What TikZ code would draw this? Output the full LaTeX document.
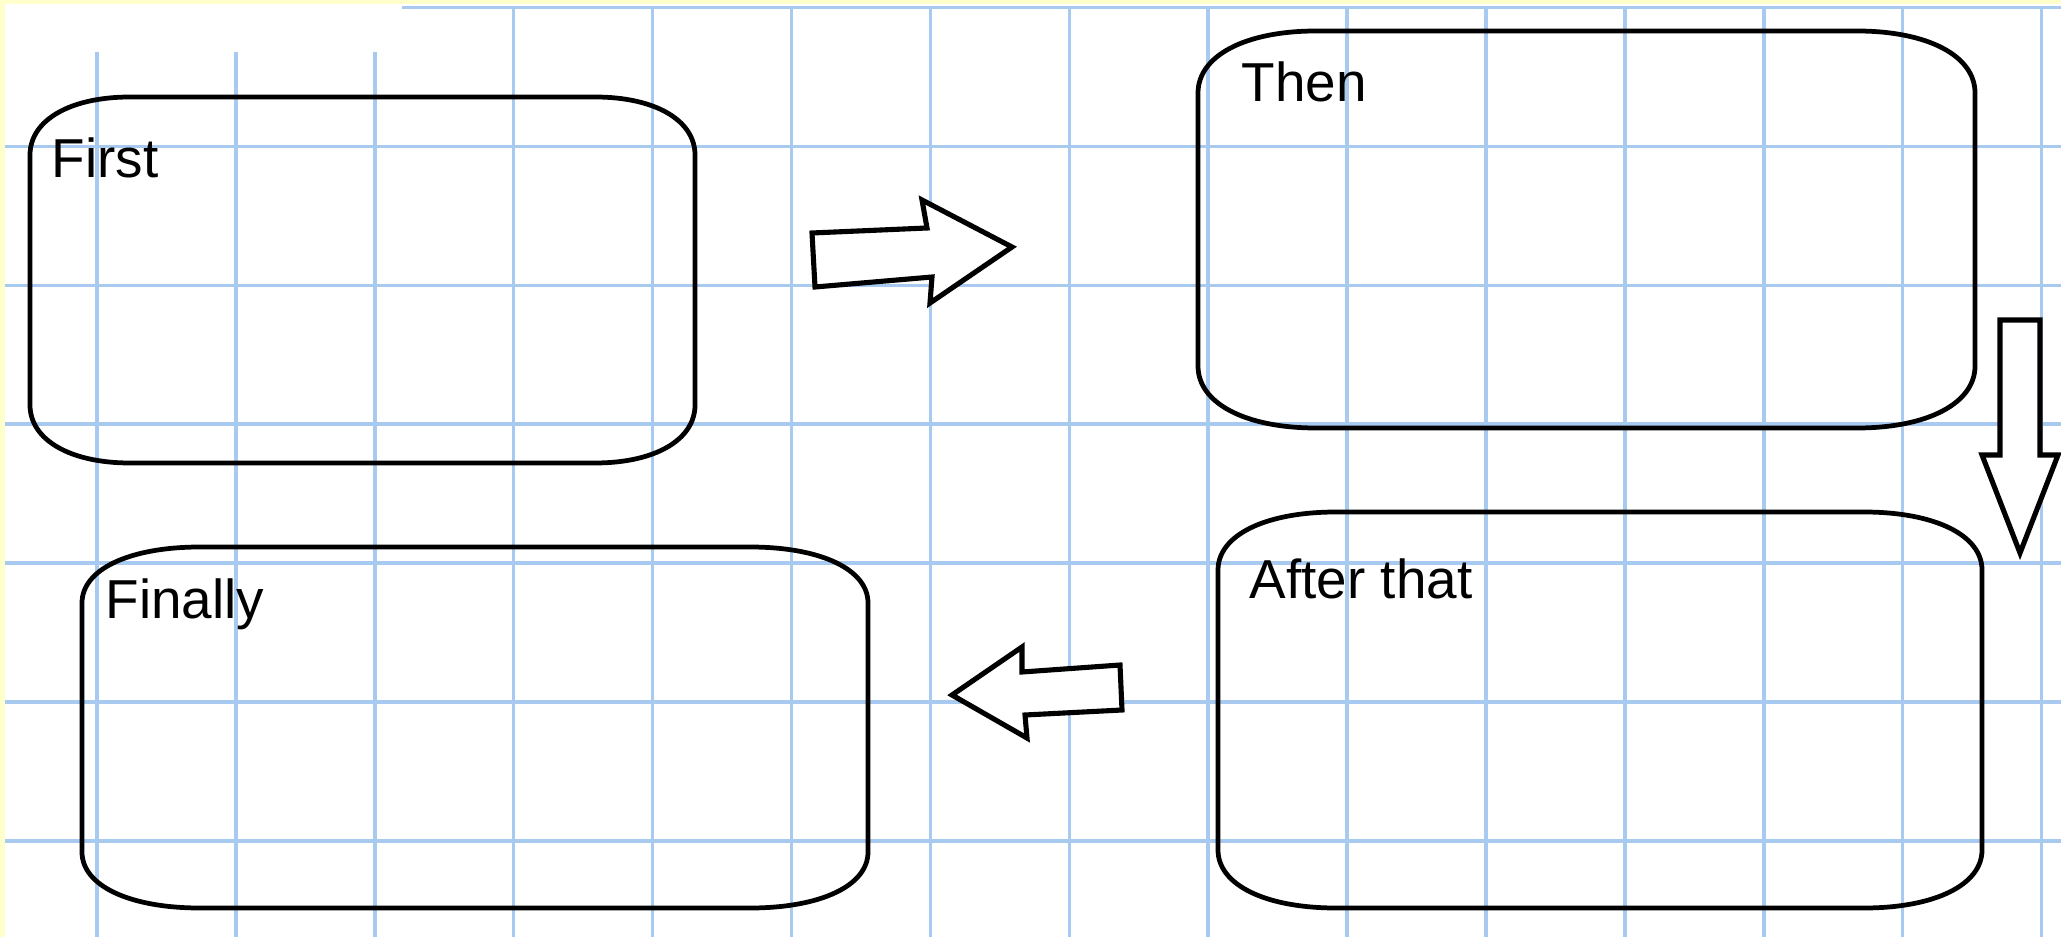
\documentclass[tikz,border=0pt]{standalone}
\usepackage{fontspec}
\setmainfont{Liberation Sans}
\definecolor{gridblue}{RGB}{168,202,240}
\definecolor{paperyellow}{RGB}{255,255,204}
\newcommand\myrbox[6]{%
  \draw[boxline] ({#1},{#2+#6}) .. controls ({#1},{#2+0.4*#6}) and ({#1+0.4*#5},{#2}) .. ({#1+#5},{#2})
    -- ({#3-#5},{#2}) .. controls ({#3-0.4*#5},{#2}) and ({#3},{#2+0.4*#6}) .. ({#3},{#2+#6})
    -- ({#3},{#4-#6}) .. controls ({#3},{#4-0.4*#6}) and ({#3-0.4*#5},{#4}) .. ({#3-#5},{#4})
    -- ({#1+#5},{#4}) .. controls ({#1+0.4*#5},{#4}) and ({#1},{#4-0.4*#6}) .. ({#1},{#4-#6}) -- cycle;}
\begin{document}
\begin{tikzpicture}[x=0.01cm,y=-0.01cm,
  gridline/.style={draw=gridblue,line width=1.0pt},
  boxline/.style={draw=black,line width=1.35pt},
  blockarrow/.style={draw=black,fill=white,line width=1.45pt,line join=miter},
  label/.style={anchor=base west,inner sep=0pt,font=\fontsize{15.6}{18}\selectfont}]
\useasboundingbox (0,0) rectangle (2061,937);
\fill[white] (0,0) rectangle (2061,937);
\fill[paperyellow] (0,0) rectangle (5,937);
\fill[paperyellow] (0,0) rectangle (2061,4.5);
% grid
\draw[gridline] (402,7.5) -- (2061,7.5);
\foreach \k in {1,...,6} {
  \draw[gridline] (5,{7.5+138.9*\k}) -- (2061,{7.5+138.9*\k});
}
\foreach \k in {0,1,2} {
  \draw[gridline] ({97+138.9*\k},52) -- ({97+138.9*\k},937);
}
\foreach \k in {3,...,14} {
  \draw[gridline] ({97+138.9*\k},7.5) -- ({97+138.9*\k},937);
}
% boxes
\myrbox{30}{97}{695}{463}{100}{58}
\myrbox{1198}{31}{1975}{428}{118}{62}
\myrbox{1218}{512}{1982}{908}{118}{58}
\myrbox{82}{547}{868}{908}{118}{56}
% labels
\node[label] (first) at (51,178) {First};
\node[label] (then) at (1241,102) {Then};
\node[label] (after) at (1249,598) {After that};
\node[label] (finally) at (105,618) {Finally};
% block arrows
\draw[blockarrow] (812,233) -- (927,228) -- (922,200) -- (1012,247) -- (930,303) -- (932,277) -- (815,287) -- cycle;
\draw[blockarrow] (2000,320) -- (2040,320) -- (2040,455) -- (2058,455) -- (2020,553) -- (1982,455) -- (2000,455) -- cycle;
\draw[blockarrow] (952,695) -- (1022,647) -- (1022,672) -- (1120,665) -- (1122,710) -- (1025,715) -- (1027,738) -- cycle;
\end{tikzpicture}
\end{document}
